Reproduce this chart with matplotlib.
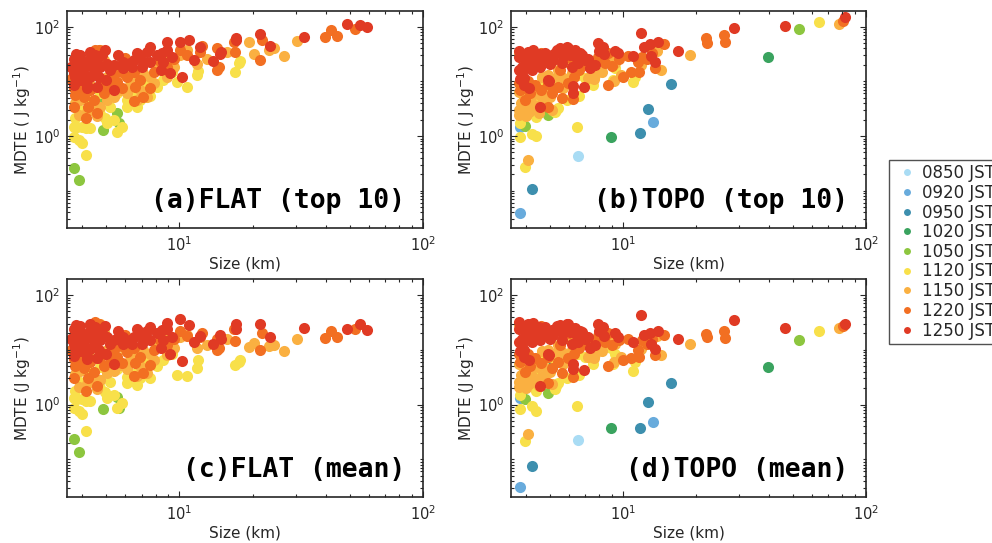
import numpy as np
import matplotlib
matplotlib.use('Agg')
import matplotlib.pyplot as plt
from matplotlib import ticker
from matplotlib.lines import Line2D

# classes de horario e cores
times = ['0850 JST', '0920 JST', '0950 JST', '1020 JST', '1050 JST',
         '1120 JST', '1150 JST', '1220 JST', '1250 JST']
colors = ['#a9dcf4', '#68abdc', '#3d8fae', '#3aa35f', '#8dc63f',
          '#f8e04a', '#fab041', '#f26f22', '#e03a24']

# ---- FLAT: tamanho (km), MDTE top 10, MDTE media ----
flat_size = {
    '1050 JST': [3.71, 3.86, 4.74, 4.85, 5.55, 5.68],
    '1120 JST': [17.8, 17.5, 17.0, 11.9, 11.8, 10.75, 9.8, 7.6, 6.7, 6.9,
                 6.1, 5.8, 5.55, 5.4, 5.05, 4.95, 4.3, 4.15, 4.0, 3.8,
                 3.7, 3.74, 3.68, 3.86, 4.0, 4.15, 4.74, 5.2, 6.1, 6.5,
                 7.1, 8.1, 8.6, 7.4, 5.55, 4.74, 4.25, 3.93, 5.3, 6.8, 9.3],
    '1150 JST': [30.4, 26.8, 23.3, 24.4, 20.2, 19.3, 15.7, 13.0, 10.75, 10.1,
                 11.8, 9.5, 8.1, 7.6, 7.1, 6.7, 6.3, 7.4, 6.7, 6.1,
                 5.7, 5.4, 5.05, 4.74, 4.6, 4.45, 4.18, 3.93, 3.74, 3.86,
                 4.05, 4.74, 5.05, 5.55, 4.25, 6.9, 7.85, 8.9, 3.7, 4.9, 6.0, 9.0],
    '1220 JST': [39.7, 42.0, 44.3, 52.7, 21.9, 16.7, 17.0, 14.3, 12.4, 14.3,
                 14.5, 21.5, 12.2, 10.75, 10.1, 9.5, 8.9, 7.85, 7.6, 6.9,
                 6.6, 6.5, 6.1, 5.8, 5.55, 5.2, 5.05, 4.9, 4.74, 4.66,
                 4.5, 4.45, 4.3, 4.23, 4.15, 4.05, 3.93, 3.74, 3.7, 3.7,
                 3.86, 4.18, 4.5, 5.4, 6.5, 7.1, 5.8, 4.6, 3.6, 8.3, 6.0, 3.9],
    '1250 JST': [48.8, 55.3, 58.9, 32.4, 21.5, 23.6, 17.1, 17.1, 12.2, 11.0,
                 10.1, 8.9, 11.45, 13.8, 14.7, 14.8, 10.3, 9.2, 8.4, 8.6,
                 8.5, 7.6, 7.37, 7.14, 6.9, 6.7, 6.5, 6.3, 5.9, 5.6,
                 5.4, 5.4, 5.2, 5.05, 4.95, 4.8, 4.74, 4.66, 4.6, 4.5,
                 4.45, 4.38, 4.31, 4.25, 4.18, 4.1, 4.05, 4.0, 3.93, 3.86,
                 3.8, 3.74, 3.71, 3.68, 3.71, 3.93, 4.6, 4.18, 5.9, 6.4,
                 7.0, 8.1, 8.9, 9.3, 7.6, 3.68, 3.75, 4.3, 5.0, 3.6],
}
flat_top10 = {
    '1050 JST': [0.26, 0.16, 4.6, 1.29, 2.6, 1.7],
    '1120 JST': [23.5, 21.3, 14.8, 15.7, 13, 7.8, 9.8, 5.4, 3.4, 4.6,
                 4.6, 1.48, 1.2, 2.0, 1.7, 2.1, 1.4, 1.4, 1.48, 1.45,
                 1.48, 2.1, 0.97, 0.85, 0.76, 0.45, 2.5, 3.44, 3.4, 5.2,
                 6.0, 8.0, 10.6, 9.2, 6.0, 6.0, 4.6, 3.0, 11, 13, 15],
    '1150 JST': [55, 29, 37, 40, 32, 52, 35, 26, 37, 30.5,
                 21, 18.5, 18.5, 12.2, 14, 10.6, 8.6, 5.2, 4.6, 6,
                 6.9, 5.2, 4.6, 3.4, 2.3, 3.0, 2.8, 4.6, 4.0, 2.4,
                 2.3, 37, 12.2, 18.5, 9.2, 6.9, 9.2, 12.2, 13, 25, 13, 28],
    '1220 JST': [64, 87, 68, 91, 57, 53, 34, 40, 44, 16,
                 18.5, 24.5, 35, 30.5, 37, 26, 18.5, 15, 7.5, 10.6,
                 8, 15, 12.2, 15, 9.8, 7.5, 10.6, 6, 8.6, 37,
                 38, 4.6, 6.9, 3.4, 2.1, 5.2, 6.4, 5.6, 3.4, 7.5,
                 8, 12.2, 14, 13, 4.3, 5.2, 7.5, 2.6, 11, 24, 27, 16],
    '1250 JST': [110, 107, 100, 66, 75, 45, 61, 56, 43, 57,
                 53, 52, 24.5, 24, 31, 34, 11.8, 14.4, 16, 22.8,
                 32.5, 43, 35, 23, 30, 32.5, 24.5, 21.3, 22.5, 30,
                 20, 6.9, 16, 21, 37, 30, 18.5, 12.2, 22.5, 30,
                 16, 21, 12.2, 24.5, 8.6, 18.5, 13, 20, 10.6, 26,
                 16, 12.2, 20, 26, 8.6, 30, 8.0, 7.5, 17.3, 18.5,
                 18.5, 30, 37, 28, 23, 14, 31, 34, 10.5, 18],
}
flat_mean = {
    '1050 JST': [0.23, 0.136, 2.8, 0.83, 1.37, 0.87],
    '1120 JST': [6.4, 5.9, 5.3, 6.4, 4.6, 3.3, 3.5, 3.0, 2.3, 3.0,
                 3.2, 1.05, 0.85, 1.5, 1.3, 1.7, 1.15, 1.15, 1.25, 1.25,
                 1.3, 1.8, 0.88, 0.75, 0.66, 0.33, 2.0, 2.6, 2.5, 3.6,
                 4.0, 5.0, 6.5, 6.0, 4.5, 4.8, 3.9, 2.6, 8.5, 9.0, 8.5],
    '1150 JST': [15.5, 9.4, 11.6, 12, 13.4, 11.2, 16, 12, 19, 17,
                 11, 11, 12, 8.5, 10, 8, 6.5, 3.8, 3.3, 4.5,
                 5.3, 4.1, 3.7, 2.8, 1.9, 2.6, 2.4, 4.1, 3.6, 2.1,
                 2.0, 30, 9.8, 14, 8, 5, 6.5, 8, 11.5, 21, 10, 18],
    '1220 JST': [16.5, 22, 17, 24, 20, 24, 14.5, 15.7, 20, 9.8,
                 11, 9.8, 17, 18, 22, 16, 12, 10, 5.3, 7.5,
                 5.8, 11, 9, 11.5, 7.5, 6, 8.5, 5, 7.2, 30,
                 32, 4, 6, 3, 1.8, 4.6, 5.7, 5, 3.1, 6.8,
                 7.2, 10.5, 12, 10, 3.3, 3.8, 5.8, 2.2, 10, 15, 19, 14],
    '1250 JST': [24, 29, 23, 25, 30, 17, 29, 24, 18, 28,
                 36, 31, 14, 13, 19, 16, 6.2, 8.5, 11, 15,
                 23, 26, 22, 16, 21, 24, 17, 15, 17, 22,
                 15, 5.6, 13, 17, 27, 24, 15, 10, 19, 26,
                 14, 18, 10.5, 21, 7.6, 16, 11.5, 17.5, 9.5, 23,
                 14, 11, 18, 24, 7.8, 27, 7.0, 6.7, 13, 13,
                 13, 20, 24, 17, 15, 12.5, 28, 30, 8.5, 16],
}

# ---- TOPO: tamanho (km), MDTE top 10, MDTE media ----
topo_size = {
    '0850 JST': [6.54],
    '0920 JST': [3.78, 13.3, 3.78],
    '0950 JST': [4.24, 11.7, 12.65, 15.7],
    '1020 JST': [8.96, 39.6, 5.09],
    '1050 JST': [53.2, 3.96, 4.56, 4.93],
    '1120 JST': [64.2, 3.78, 3.94, 4.22, 4.4, 3.78, 6.44, 11.0, 5.25, 5.86,
                 6.6, 9.25, 9.1, 4.63, 4.78, 5.25, 5.95, 6.54, 6.97, 7.54,
                 8.96, 4.1, 4.2, 4.35, 4.4, 5.3, 5.4, 11.2],
    '1150 JST': [77.1, 18.9, 14.3, 13.8, 9.84, 9.16, 4.07, 3.72, 4.63, 4.93,
                 5.33, 5.68, 5.8, 6.14, 7.19, 7.66, 8.16, 8.83, 9.25, 11.9,
                 3.72, 3.8, 3.9, 4.0, 4.1, 4.2, 4.3, 4.45, 4.5, 4.6,
                 4.7, 4.8, 5.0, 5.1, 3.75, 3.72, 4.0, 5.6, 5.4, 6.3, 7.6, 6.0],
    '1220 JST': [80.3, 21.9, 22.2, 26.0, 26.2, 10.8, 11.5, 13.5, 8.68, 6.24,
                 4.93, 4.15, 3.78, 3.96, 3.72, 3.84, 4.08, 4.35, 4.6, 4.9,
                 5.1, 5.4, 5.6, 5.95, 6.3, 6.6, 7.0, 7.4, 7.9, 8.4,
                 9.0, 9.6, 10.5, 12.0, 13.2, 12.6, 6.0, 5.0, 4.2, 4.6,
                 10.0, 14.8, 8.7, 5.5, 11.6],
    '1250 JST': [46.6, 28.6, 82, 16.8, 11.9, 12.9, 13.9, 12.15, 13.1, 13.5,
                 11.0, 8.28, 8.35, 9.25, 9.56, 7.66, 6.92, 6.24, 6.24, 4.96, 4.56,
                 3.72, 3.84, 3.84, 3.9, 3.96, 4.02, 4.14, 4.21, 4.28, 4.35,
                 4.42, 4.49, 4.56, 4.63, 4.7, 4.78, 4.85, 4.93, 5.01, 5.09,
                 5.17, 5.25, 5.33, 5.5, 5.59, 5.68, 5.77, 5.86, 5.95, 6.05,
                 6.14, 6.24, 6.34, 6.44, 6.54, 6.65, 6.75, 6.97, 7.19, 7.3,
                 7.9, 8.0, 3.72, 3.78, 3.9, 4.1, 3.75, 4.05],
}
topo_top10 = {
    '0850 JST': [0.43],
    '0920 JST': [0.0385, 1.78, 1.49],
    '0950 JST': [0.109, 1.12, 3.12, 8.8],
    '1020 JST': [0.95, 28.2, 7.8],
    '1050 JST': [89, 1.52, 2.87, 2.42],
    '1120 JST': [120, 0.95, 0.27, 1.1, 1.0, 1.75, 1.47, 9.9, 2.7, 4.56,
                 5.3, 17.3, 10.6, 11.4, 10.3, 8.0, 10.6, 13.1, 11.4, 8.6,
                 21.3, 3.6, 3.2, 5.2, 2.2, 3.0, 3.3, 12],
    '1150 JST': [112, 30.3, 16.1, 36.6, 13.1, 10.2, 0.37, 32.5, 12.2, 13.1,
                 12.2, 7.5, 10.6, 14, 11.4, 13.1, 15, 24.5, 21.3, 19.9,
                 3.0, 4.0, 5.0, 3.5, 2.8, 4.2, 3.2, 5.8, 2.6, 3.8,
                 6.5, 4.5, 5.2, 3.0, 6.5, 2.4, 2.3, 12, 16, 18, 11, 22],
    '1220 JST': [127, 61, 51, 70.5, 52, 15, 22.9, 17.3, 8.6, 4.7,
                 3.44, 6.0, 6.9, 4.56, 9.5, 12, 10, 8.5, 7.0, 9.0,
                 6.0, 8.0, 5.0, 9.5, 12, 16, 20, 24, 28, 22,
                 19, 26, 29, 28, 33, 26, 28, 22, 25, 33,
                 12, 49, 33, 16, 15],
    '1250 JST': [104, 96, 148, 36.6, 77.6, 47.5, 51.7, 43, 29, 22.9,
                 29.5, 43, 31.6, 36.6, 32.5, 20, 7.8, 8.2, 6.2, 10.3, 3.44,
                 28, 18.5, 15, 11.4, 26, 21, 24.5, 16, 37, 28,
                 23, 32, 18.5, 30, 24.5, 32.5, 26, 10.6, 21, 30,
                 24.5, 32.5, 37, 40, 21.3, 28, 37.4, 43, 40, 30,
                 18.5, 32.5, 37, 26, 21.3, 32.5, 30, 24.5, 26, 17.3,
                 49.5, 36, 16, 11, 8.5, 7.5, 36, 35],
}
topo_mean = {
    '0850 JST': [0.224],
    '0920 JST': [0.0318, 0.49, 1.29],
    '0950 JST': [0.0747, 0.374, 1.09, 2.52],
    '1020 JST': [0.38, 4.93, 4.86],
    '1050 JST': [15, 1.24, 2.2, 1.6],
    '1120 JST': [22.4, 0.84, 0.216, 0.95, 0.75, 1.5, 0.93, 4.16, 1.9, 3.0,
                 3.4, 8.3, 5.5, 9, 8, 6.5, 7.5, 8.5, 7.5, 5.5,
                 11, 3.1, 2.7, 4.4, 1.8, 2.2, 2.5, 6],
    '1150 JST': [25, 13, 7.9, 18, 7.5, 6.0, 0.29, 28, 9.5, 10,
                 9, 5.5, 7.8, 10, 7.5, 8.5, 9.5, 15, 13, 10.5,
                 2.6, 3.4, 4.2, 3.0, 2.4, 3.6, 2.7, 4.8, 2.2, 3.2,
                 5.3, 3.6, 4.0, 2.4, 5.6, 2.1, 2.0, 9, 12, 12, 7, 16],
    '1220 JST': [27.7, 19.4, 17.3, 22.4, 16.4, 7.0, 10, 8, 5.0, 3.2,
                 2.5, 5.0, 6.0, 4.0, 8.3, 10, 8.5, 7, 5.8, 7.3,
                 4.7, 6.0, 3.8, 7, 8.5, 11, 13, 15, 18, 14,
                 12, 15, 16, 15, 16, 13, 20, 17, 21, 27,
                 6.5, 19, 20, 12, 7.5],
    '1250 JST': [25, 34.4, 29.7, 15.7, 42.5, 20, 22, 19, 13, 10.5,
                 14, 26, 18, 20, 17, 12, 4.3, 5.6, 4.5, 8, 2.2,
                 24, 16, 13, 10, 22, 18, 21, 14, 31, 23,
                 19, 26, 15, 24, 20, 26, 21, 8.5, 16, 23,
                 19, 24, 27, 28, 15, 20, 27, 30, 29, 21,
                 13, 22, 25, 18, 14, 22, 21, 16, 17, 11,
                 30, 22, 14, 9.6, 7.4, 6.5, 32, 30],
}

txt = '#262626'
W, H = 992, 543
fig = plt.figure(figsize=(W / 100, H / 100), dpi=100)


def add_ax(left, top, right, bottom):
    return fig.add_axes([left / W, 1 - bottom / H, (right - left) / W, (bottom - top) / H])


def draw(ax, size, mdte, tag, ylabel):
    for t, c in zip(times, colors):
        if t in size:
            ax.scatter(size[t], mdte[t], s=64, color=c, linewidths=0)
    ax.set_xscale('log')
    ax.set_yscale('log')
    ax.set_xlim(3.46, 100)
    ax.set_ylim(0.0205, 196)
    ax.yaxis.set_major_locator(ticker.FixedLocator([1e-2, 1e0, 1e2]))
    ax.yaxis.set_major_formatter(ticker.LogFormatterSciNotation())
    ax.yaxis.set_minor_locator(ticker.FixedLocator(
        [m * 10.0 ** e for e in range(-2, 3) for m in range(1, 10)]))
    ax.yaxis.set_minor_formatter(ticker.NullFormatter())
    ax.xaxis.set_minor_locator(ticker.LogLocator(base=10, subs=np.arange(2, 10), numticks=30))
    ax.xaxis.set_minor_formatter(ticker.NullFormatter())
    ax.tick_params(which='both', direction='in', top=True, right=True,
                   colors=txt, labelsize=10.5, width=0.8)
    ax.tick_params(which='major', length=4.5, pad=5)
    ax.tick_params(which='minor', length=2.2)
    for sp in ax.spines.values():
        sp.set_linewidth(1.2)
        sp.set_color(txt)
    ax.set_xlabel('Size (km)', fontsize=11, color=txt, labelpad=2)
    ax.set_ylabel(ylabel, fontsize=11, color=txt, labelpad=0.5)
    ax.text(0.95, 0.093, tag, transform=ax.transAxes, ha='right', va='baseline',
            fontsize=19, fontweight='bold', family='DejaVu Sans Mono', color='black')


ax_a = add_ax(67, 10.7, 423, 228.3)
ax_b = add_ax(511, 10.7, 866, 228.3)
ax_c = add_ax(67, 279, 423, 497)
ax_d = add_ax(511, 279, 866, 497)

draw(ax_a, flat_size, flat_top10, '(a)FLAT (top 10)', 'MDTE ( J kg$^{-1}$)')
draw(ax_b, topo_size, topo_top10, '(b)TOPO (top 10)', 'MDTE ( J kg$^{-1}$)')
draw(ax_c, flat_size, flat_mean, '(c)FLAT (mean)', 'MDTE (J kg$^{-1}$)')
draw(ax_d, topo_size, topo_mean, '(d)TOPO (mean)', 'MDTE (J kg$^{-1}$)')

handles = [Line2D([], [], linestyle='none', marker='o', markersize=5,
                  markerfacecolor=c, markeredgewidth=0) for c in colors]
leg = fig.legend(handles, times, loc='upper left', bbox_to_anchor=(889 / W, 1 - 160 / H),
                 bbox_transform=fig.transFigure, borderaxespad=0, fontsize=12,
                 frameon=True, fancybox=False, edgecolor=txt, labelspacing=0.1,
                 borderpad=0.25, handlelength=1.6, handletextpad=0.15)
leg.get_frame().set_linewidth(1.0)
for t in leg.get_texts():
    t.set_color(txt)

fig.savefig('out.png', dpi=100)
